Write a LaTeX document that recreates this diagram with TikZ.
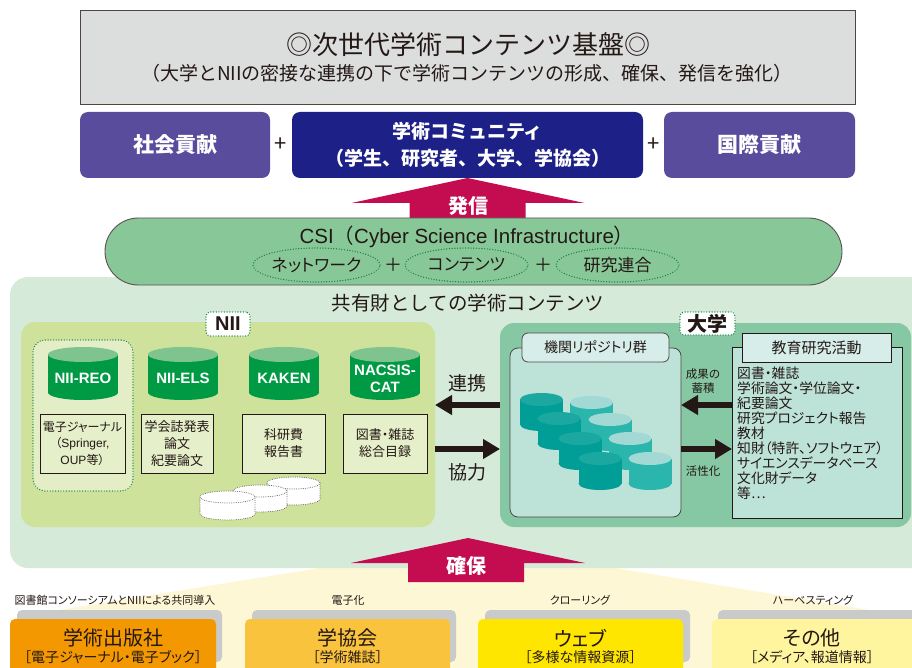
\documentclass[tikz,border=0pt]{standalone}
\usepackage{fontspec}
\setmainfont{Noto Sans CJK JP}[RawFeature=+palt]
\newfontfamily\jpfull{Noto Sans CJK JP}
\newfontfamily\lat{Liberation Sans}
\usetikzlibrary{arrows.meta,shapes.geometric}

\definecolor{ink}{HTML}{231815}
\definecolor{topgray}{HTML}{DCDDDD}
\definecolor{violet}{HTML}{5A4C9C}
\definecolor{navy}{HTML}{1D2087}
\definecolor{crimson}{HTML}{C30D50}
\definecolor{csigreen}{HTML}{88C898}
\definecolor{pale}{HTML}{D5EAD8}
\definecolor{niibg}{HTML}{CEE29B}
\definecolor{reobg}{HTML}{E3EEC6}
\definecolor{drumgreen}{HTML}{009944}
\definecolor{drumtop}{HTML}{7FC48F}
\definecolor{notebg}{HTML}{E5EFC9}
\definecolor{unibg}{HTML}{86C8A3}
\definecolor{repobg}{HTML}{BDE2D7}
\definecolor{tabbg}{HTML}{D6EDE9}
\definecolor{tealA}{HTML}{009E96}
\definecolor{tealAtop}{HTML}{1AA8A0}
\definecolor{tealB}{HTML}{2BB6AD}
\definecolor{tealBtop}{HTML}{A2D9D4}
\definecolor{dotgreen}{HTML}{1A8242}
\definecolor{fan}{HTML}{FDF7D6}
\definecolor{shadowgray}{HTML}{C9CACA}
\definecolor{orangeA}{HTML}{F39800}
\definecolor{orangeB}{HTML}{F9C33D}
\definecolor{yellowC}{HTML}{FFE600}
\definecolor{yellowD}{HTML}{FFF59E}

\newcommand\fsz[2]{\fontsize{#1}{#2}\selectfont}
% solid drum: centre x, top y, width, height, end radius, body colour, lid colour
\newcommand\drum[7]{%
  \fill[#6] (#1,#2+#4-#5) ellipse [x radius=#3/2, y radius=#5];
  \fill[#6] (#1-#3/2,#2+#5) rectangle (#1+#3/2,#2+#4-#5);
  \fill[#7] (#1,#2+#5) ellipse [x radius=#3/2, y radius=#5];
}
% white drum with a dotted outline: centre x, top y, width, height, end radius
\newcommand\hollowdrum[5]{%
  \filldraw[fill=white, hollow] (#1,#2+#4-#5) ellipse [x radius=#3/2, y radius=#5];
  \fill[white] (#1-#3/2,#2+#5) rectangle (#1+#3/2,#2+#4-#5);
  \draw[hollow] (#1-#3/2,#2+#5) -- (#1-#3/2,#2+#4-#5) (#1+#3/2,#2+#5) -- (#1+#3/2,#2+#4-#5);
  \filldraw[fill=white, hollow] (#1,#2+#5) ellipse [x radius=#3/2, y radius=#5];
}

\begin{document}
\begin{tikzpicture}[x=1pt,y=-1pt,
  sz/.style 2 args={minimum width=#1pt, minimum height=#2pt, inner sep=0pt, outer sep=0pt},
  tx/.style={text=ink, inner sep=0pt, align=center},
  dotline/.style={draw=dotgreen, line width=1.4pt, dash pattern=on 0pt off 2.7pt, line cap=round},
  hollow/.style={draw=ink!75, line width=0.9pt, dash pattern=on 0pt off 1.8pt, line cap=round},
  blk/.style={draw=ink, line width=6.5pt, -{Triangle[length=17pt,width=19pt]}},
  notebox/.style 2 args={sz={#1}{#2}, draw=ink, line width=0.9pt, fill=notebg, text=ink, align=center, font=\fsz{13}{17}},
  drumtext/.style={text=white, inner sep=0pt, align=center, font=\lat\bfseries\fsz{15}{17}},
  dotell/.style={ellipse, dotline, sz={123}{34}, text=ink, font=\fsz{17}{20}},
  shadow/.style={sz={#1}{52}, fill=shadowgray, rounded corners=5pt},
  srcbox/.style 2 args={sz={#1}{61}, fill=#2, rounded corners=5pt},
]
\useasboundingbox (0,0) rectangle (912,668);

% pale funnel rising from the four sources
\fill[fan] (351,563) -- (585,563) -- (912,617) -- (912,668) -- (15,668) -- (15,617) -- cycle;

% shared-contents panel
\node[sz={930}{291}, fill=pale, rounded corners=18pt] (shared) at (475,422.5) {};

% headline box
\node[sz={775}{94}, fill=topgray, draw=ink!80, line width=0.8pt] (base) at (467.5,57) {};
\node[tx, font=\jpfull\fsz{26}{30}] (ttl) at (468,45) {◎次世代学術コンテンツ基盤◎};
\node[tx, font=\jpfull\fsz{19}{23}] (sub) at (467,73) {（大学とNIIの密接な連携の下で学術コンテンツの形成、確保、発信を強化）};

% contribution row
\node[sz={190}{66}, fill=violet, rounded corners=8pt, text=white, font=\bfseries\fsz{21}{25}] (social) at (175,145) {社会貢献};
\node[sz={351}{66}, fill=navy, rounded corners=8pt, text=white, align=center, font=\jpfull\bfseries\fsz{19}{27}] (community) at (467.5,145) {学術コミュニティ\\（学生、研究者、大学、学協会）};
\node[sz={191}{66}, fill=violet, rounded corners=8pt, text=white, font=\bfseries\fsz{21}{25}] (intl) at (759.5,145) {国際貢献};
\node[tx, font=\fsz{22}{26}] (plusA) at (281,145) {+};
\node[tx, font=\fsz{22}{26}] (plusB) at (653.5,145) {+};

% upward arrow: dissemination
\fill[crimson] (community.south) -- ++(117,25) -- ++(-59,0) -- ++(0,19) -- ++(-116,0) -- ++(0,-19) -- ++(-58,0) -- cycle;
\node[text=white, inner sep=0pt, font=\bfseries\fsz{20}{24}] (hasshin) at (468,206) {発信};

% CSI band
\node[sz={737}{67}, fill=csigreen, draw=ink!75, line width=0.9pt, rounded corners=33.5pt] (csi) at (473.5,251.5) {};
\node[tx, font=\jpfull\fsz{20.5}{24}] (csititle) at (467,237) {{\lat CSI}（{\lat Cyber Science Infrastructure}）};
\node[dotell] (network) at (316.5,265) {ネットワーク};
\node[dotell] (contents) at (466.5,265) {コンテンツ};
\node[dotell] (alliance) at (617.5,265) {研究連合};
\node[tx, font=\fsz{18}{20}] (plusC) at (393,265) {＋};
\node[tx, font=\fsz{18}{20}] (plusD) at (543,265) {＋};

\node[tx, font=\jpfull\fsz{19.5}{23}] (sharedtitle) at (468,303) {共有財としての学術コンテンツ};

% NII side
\node[sz={414}{205}, fill=niibg, rounded corners=14pt] (nii) at (228,424.5) {};
\node[sz={44}{24}, fill=white, dotline, rounded corners=4pt, text=ink, font=\lat\bfseries\fsz{20}{24}] (niitag) at (228,324) {NII};
\node[sz={100}{151}, fill=reobg, dotline, rounded corners=12pt] (reoframe) at (83,415.5) {};

\drum{83}{347}{70}{53}{7.5}{drumgreen}{drumtop}
\drum{183}{347}{70}{53}{7.5}{drumgreen}{drumtop}
\drum{284}{347}{70}{53}{7.5}{drumgreen}{drumtop}
\drum{385}{347}{70}{53}{7.5}{drumgreen}{drumtop}
\node[drumtext] (reo) at (83,378) {NII-REO};
\node[drumtext] (els) at (183,378) {NII-ELS};
\node[drumtext] (kaken) at (284,378) {KAKEN};
\node[drumtext, font=\lat\bfseries\fsz{15}{17.5}] (nacsis) at (385,379) {NACSIS-\\CAT};

\node[notebox={85}{59}, font=\fsz{12}{16.5}] (n1) at (82.5,443.5) {電子ジャーナル\\（{\lat Springer,}\\{\lat OUP}等）};
\node[notebox={72}{59}] (n2) at (177,443.5) {学会誌発表\\論文\\紀要論文};
\node[notebox={83}{59}] (n3) at (283.5,443.5) {科研費\\報告書};
\node[notebox={84}{59}] (n4) at (385,443.5) {図書・雑誌\\総合目録};

\hollowdrum{293.5}{477}{53}{28}{6}
\hollowdrum{260}{485}{54}{27}{6}
\hollowdrum{227.5}{491}{55}{29}{6}

% university side
\node[sz={411}{204}, fill=unibg, rounded corners=14pt] (univ) at (705.5,425) {};
\node[sz={55}{23}, fill=white, dotline, rounded corners=4pt, text=ink, font=\bfseries\fsz{20}{24}] (univtag) at (707.5,323.5) {大学};

\node[sz={171}{169}, fill=repobg, draw=ink!80, line width=0.8pt, rounded corners=8pt] (repo) at (595.5,432.5) {};
\node[sz={147}{29}, fill=tabbg, draw=ink!80, line width=0.8pt, rounded corners=6pt, text=ink, font=\fsz{14}{16}] (repohead) at (595.5,347.5) {機関リポジトリ群};

\drum{541.5}{393}{43}{38}{6.5}{tealA}{tealAtop}
\drum{591.5}{396}{43}{38}{6.5}{tealB}{tealBtop}
\drum{559}{412}{43}{38}{6.5}{tealA}{tealAtop}
\drum{610}{413}{43}{38}{6.5}{tealB}{tealBtop}
\drum{580}{432}{43}{38}{6.5}{tealA}{tealAtop}
\drum{630}{432}{43}{38}{6.5}{tealB}{tealBtop}
\drum{600}{452}{43}{38}{6.5}{tealA}{tealAtop}
\drum{650}{452}{43}{38}{6.5}{tealB}{tealBtop}

\node[sz={170}{171}, fill=repobg, draw=ink, line width=0.9pt] (edu) at (817,432.5) {};
\node[sz={149}{29}, fill=tabbg, draw=ink, line width=0.9pt, text=ink, font=\fsz{15}{17}] (eduhead) at (816.5,347.5) {教育研究活動};
\node[tx, anchor=north west, align=left, font=\fsz{13.8}{15}] (edulist) at (737,367) {図書・雑誌\\学術論文・学位論文・\\紀要論文\\研究プロジェクト報告\\教材\\知財（特許、ソフトウェア）\\サイエンスデータベース\\文化財データ\\等…};

% exchange arrows
\coordinate (rowA) at (0,405);
\coordinate (rowB) at (0,449);
\draw[blk] (univ.west |- rowA) -- (nii.east |- rowA);
\draw[blk] (nii.east |- rowB) -- (univ.west |- rowB);
\draw[blk] (edu.west |- rowA) -- (repo.east |- rowA);
\draw[blk] (repo.east |- rowB) -- (edu.west |- rowB);
\node[tx, font=\fsz{19}{22}] (renkei) at (467,383) {連携};
\node[tx, font=\fsz{19}{22}] (kyoryoku) at (467,472) {協力};
\node[tx, font=\fsz{11.5}{14.5}] (seika) at (703,381) {成果の\\蓄積};
\node[tx, font=\fsz{11.5}{14.5}] (kasseika) at (703,471) {活性化};

% upward arrow: securing
\fill[crimson] (468,538) -- ++(117,25) -- ++(-61,0) -- ++(0,19) -- ++(-116,0) -- ++(0,-19) -- ++(-57,0) -- cycle;
\node[text=white, inner sep=0pt, font=\bfseries\fsz{20}{24}] (kakuho) at (466,566) {確保};

% sources
\node[tx, font=\fsz{11}{13}] (labA) at (115,600) {図書館コンソーシアムとNIIによる共同導入};
\node[tx, font=\fsz{11}{13}] (labB) at (348,600) {電子化};
\node[tx, font=\fsz{11}{13}] (labC) at (580,600) {クローリング};
\node[tx, font=\fsz{11}{13}] (labD) at (813,600) {ハーベスティング};

\node[shadow=205] (shA) at (119.5,636) {};
\node[shadow=204] (shB) at (354,636) {};
\node[shadow=205] (shC) at (587.5,636) {};
\node[shadow=207] (shD) at (821.5,636) {};
\node[srcbox={206}{orangeA}] (pub) at (113,649.5) {};
\node[srcbox={205}{orangeB}] (soc) at (347.5,649.5) {};
\node[srcbox={205}{yellowC}] (web) at (580.5,649.5) {};
\node[srcbox={213}{yellowD}] (other) at (818.5,649.5) {};

\node[tx, font=\fsz{20}{24}] (pubA) at (113,638) {学術出版社};
\node[tx, font=\fsz{14}{17}] (pubB) at (113,657) {［電子ジャーナル・電子ブック］};
\node[tx, font=\fsz{20}{24}] (socA) at (347.5,638) {学協会};
\node[tx, font=\fsz{14}{17}] (socB) at (347.5,657) {［学術雑誌］};
\node[tx, font=\fsz{20}{24}] (webA) at (580.5,638) {ウェブ};
\node[tx, font=\fsz{14}{17}] (webB) at (580.5,657) {［多様な情報資源］};
\node[tx, font=\fsz{20}{24}] (otherA) at (812,638) {その他};
\node[tx, font=\fsz{14}{17}] (otherB) at (812,657) {［メディア、報道情報］};
\end{tikzpicture}
\end{document}
